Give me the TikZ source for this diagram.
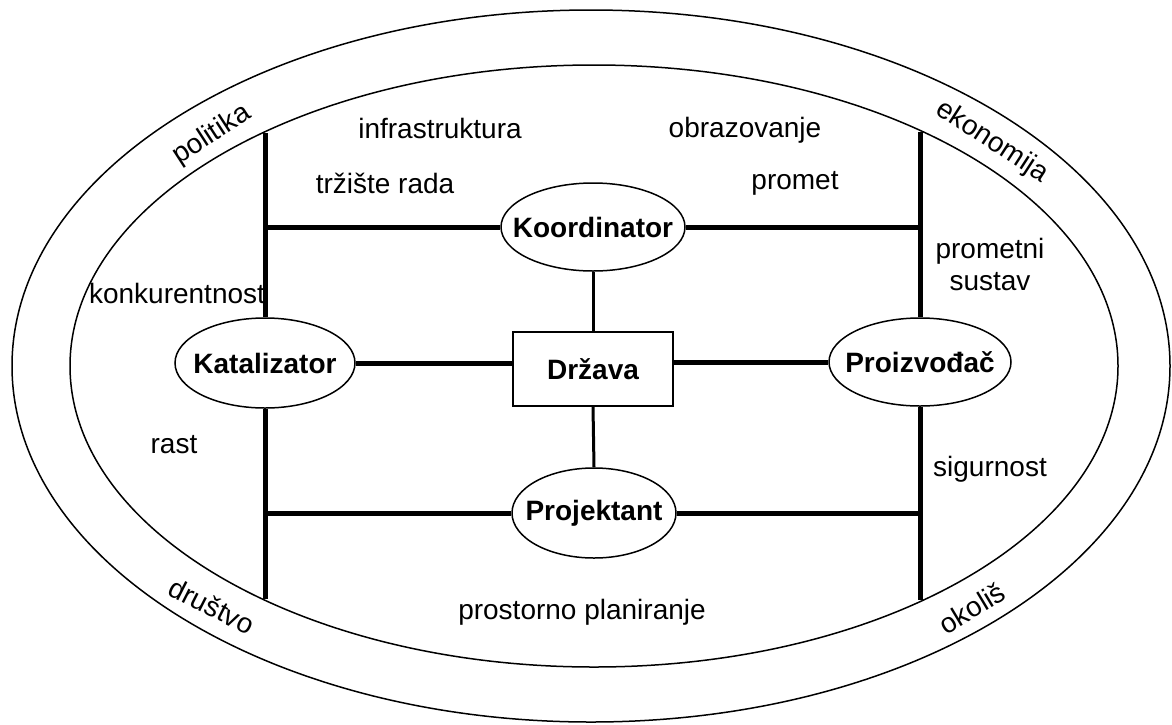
\documentclass[tikz,border=0pt]{standalone}
\usepackage{fontspec}
\setmainfont{Liberation Sans}
\usetikzlibrary{shapes.geometric}

\begin{document}
\begin{tikzpicture}[x=0.5pt, y=-0.5pt,
    font=\fontsize{14}{16}\selectfont,
    uloga/.style={draw, ellipse, line width=0.75pt, inner xsep=-8pt, inner ysep=0pt, font=\fontsize{14}{16}\selectfont\bfseries},
    veza/.style={line width=2.5pt},
    tanka/.style={line width=1.5pt},
    okvir/.style={line width=0.75pt}]
    \useasboundingbox (0,0) rectangle (1172,724);

    % vanjski i unutarnji prsten
    \draw[okvir] (591,366) ellipse [x radius=579, y radius=356];
    \draw[okvir] (594,366) ellipse [x radius=524, y radius=301];

    \node[rotate=33] (politika) at (212,135) {politika};
    \node[rotate=-33] (ekonomija) at (992,142) {ekonomija};
    \node[rotate=-27] (drustvo) at (212,606) {društvo};
    \node[rotate=31] (okolis) at (972,608) {okoliš};

    % uloge države
    \node[uloga, minimum width=90pt, minimum height=45pt] (kat) at (265,363) {Katalizator};
    \node[uloga, minimum width=92pt, minimum height=44pt] (koord) at (593,227) {Koordinator};
    \node[uloga, minimum width=91pt, minimum height=44pt] (proiz) at (920,362) {Proizvođač};
    \node[uloga, minimum width=82pt, minimum height=45pt] (proj) at (594,513) {Projektant};
    \node[draw, line width=0.75pt, minimum width=80pt, minimum height=37pt, font=\fontsize{14}{16}\selectfont\bfseries] (drz) at (593,369) {Država};

    % krajevi okomitih linija na unutarnjem prstenu
    \coordinate (lg) at (265,133);
    \coordinate (ld) at (265,599);
    \coordinate (dg) at (920,132);
    \coordinate (dd) at (920,600);

    \draw[veza] (lg) -- (kat.north);
    \draw[veza] (kat.south) -- (ld);
    \draw[veza] (dg) -- (proiz.north);
    \draw[veza] (proiz.south) -- (dd);

    \draw[veza] (lg |- koord.west) -- (koord.west);
    \draw[veza] (koord.east) -- (dg |- koord.east);
    \draw[veza] (ld |- proj.west) -- (proj.west);
    \draw[veza] (proj.east) -- (dd |- proj.east);
    \draw[veza] (kat.east) -- (kat.east -| drz.west);
    \draw[veza] (drz.east |- proiz.west) -- (proiz.west);

    \draw[tanka] (koord.south) -- (drz.north);
    \draw[tanka] (drz.south) -- (proj.north);

    % podrucja
    \node (infra) at (440,128) {infrastruktura};
    \node (obraz) at (745,130) {obrazovanje};
    \node (trziste) at (385,183) {tržište rada};
    \node (promet) at (795,183) {promet};
    \node (konk) at (177,293) {konkurentnost};
    \node[align=center] (psustav) at (990,264) {prometni\\sustav};
    \node (rast) at (174,445) {rast};
    \node (sig) at (990,469) {sigurnost};
    \node (plan) at (582,612) {prostorno planiranje};
\end{tikzpicture}
\end{document}
